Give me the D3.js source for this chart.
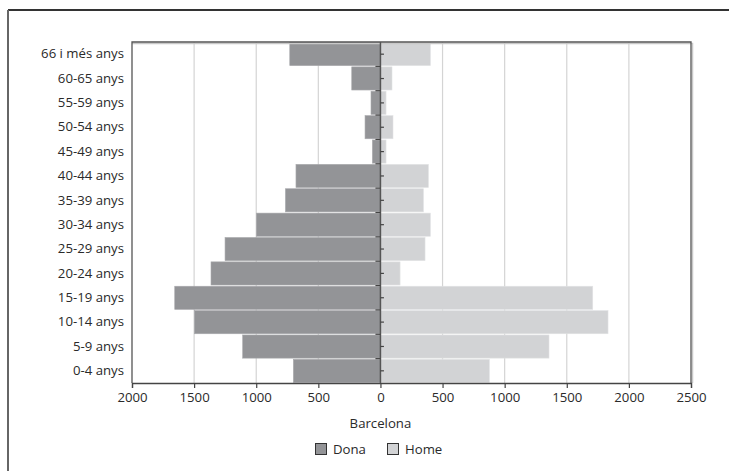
<!DOCTYPE html>
<html>
<head>
<meta charset="utf-8">
<script src="https://cdn.jsdelivr.net/npm/d3@7"></script>
<style>
  html, body { margin: 0; padding: 0; background: #fff; }
  svg text { font-family: "Open Sans", "DejaVu Sans", sans-serif; fill: #2a2a2a; }
</style>
</head>
<body>
<svg id="chart" width="729" height="471"></svg>
<script>
const categories = ["0-4 anys","5-9 anys","10-14 anys","15-19 anys","20-24 anys","25-29 anys","30-34 anys","35-39 anys","40-44 anys","45-49 anys","50-54 anys","55-59 anys","60-65 anys","66 i més anys"];
const dona = [701, 1109, 1498, 1656, 1364, 1251, 999, 765, 680, 65, 124, 76, 231, 730];
const home = [877, 1357, 1832, 1709, 158, 359, 402, 346, 386, 45, 101, 45, 93, 402];
const xTicks = [-2000, -1500, -1000, -500, 0, 500, 1000, 1500, 2000, 2500];
const xTitle = "Barcelona";
const seriesNames = ["Dona", "Home"];
const colors = ["#939497", "#d2d3d5"];

const svg = d3.select("#chart");
const mL = 132, mR = 691, mT = 42, mB = 383;
const fs = 13.2;

const x = d3.scaleLinear().domain([-2000, 2500]).range([mL, mR]);
const y = d3.scaleBand().domain(categories.slice().reverse()).range([mT, mB]).paddingInner(0.05).paddingOuter(0.02);
const yb = d3.scaleBand().domain(categories.slice().reverse()).range([mT, mB]);

// outer frame
svg.append("line").attr("x1", 8).attr("x2", 729).attr("y1", 10).attr("y2", 10).attr("stroke", "#333").attr("stroke-width", 2);
svg.append("line").attr("x1", 8).attr("x2", 8).attr("y1", 10).attr("y2", 471).attr("stroke", "#666").attr("stroke-width", 2);

// gridlines
svg.append("g").selectAll("line").data(xTicks.filter(d => d !== 0 && d !== -2000 && d !== 2500)).join("line")
  .attr("x1", d => x(d)).attr("x2", d => x(d)).attr("y1", mT).attr("y2", mB)
  .attr("stroke", "#d4d4d4").attr("stroke-width", 1.2);

// bars
const g = svg.append("g");
g.selectAll(".dona").data(categories).join("rect")
  .attr("x", (d, i) => x(-dona[i])).attr("width", (d, i) => x(0) - x(-dona[i]))
  .attr("y", d => y(d)).attr("height", y.bandwidth())
  .attr("fill", colors[0]).attr("stroke", "#a9aaad").attr("stroke-width", 0.6);
g.selectAll(".home").data(categories).join("rect")
  .attr("x", x(0)).attr("width", (d, i) => x(home[i]) - x(0))
  .attr("y", d => y(d)).attr("height", y.bandwidth())
  .attr("fill", colors[1]).attr("stroke", "#e2e3e4").attr("stroke-width", 0.6);

// plot frame shadow + frame
svg.append("path").attr("d", `M${mL},${mT + 1.5} H${mR + 1.5} V${mB}`)
  .attr("fill", "none").attr("stroke", "#c8c8c8").attr("stroke-width", 1.5);
svg.append("path").attr("d", `M${mL},${mB} V${mT} H${mR} V${mB}`)
  .attr("fill", "none").attr("stroke", "#555").attr("stroke-width", 1.3);

// x axis
const xAxis = d3.axisBottom(x).tickValues(xTicks).tickFormat(d => Math.abs(d)).tickSize(5).tickPadding(5);
const ax = svg.append("g").attr("transform", `translate(0,${mB})`).call(xAxis);
ax.attr("font-family", null).attr("font-size", null);
ax.select(".domain").attr("stroke", "#444").attr("stroke-width", 1.3);
ax.selectAll(".tick line").attr("stroke", "#444").attr("stroke-width", 1.2);
ax.selectAll("text").attr("font-size", fs).style("fill", "#2a2a2a");

// zero axis
svg.append("line").attr("x1", x(0)).attr("x2", x(0)).attr("y1", mT).attr("y2", mB)
  .attr("stroke", "#555").attr("stroke-width", 1.5);
// boundary ticks (left) and center ticks (right)
svg.append("g").selectAll("line").data(categories.slice(0, categories.length - 1)).join("line")
  .attr("x1", x(0) - 5).attr("x2", x(0)).attr("y1", d => yb(d)).attr("y2", d => yb(d))
  .attr("stroke", "#444").attr("stroke-width", 1.2);
svg.append("g").selectAll("line").data(categories).join("line")
  .attr("x1", x(0)).attr("x2", x(0) + 3.5).attr("y1", d => yb(d) + yb.bandwidth() / 2).attr("y2", d => yb(d) + yb.bandwidth() / 2)
  .attr("stroke", "#444").attr("stroke-width", 1.2);

// y labels
svg.append("g").selectAll("text").data(categories).join("text")
  .attr("x", mL - 8).attr("y", d => yb(d) + yb.bandwidth() / 2).attr("dy", "0.32em")
  .attr("text-anchor", "end").attr("font-size", fs).text(d => d);

// x title
svg.append("text").attr("x", x(0)).attr("y", 428).attr("text-anchor", "middle").attr("font-size", fs).text(xTitle);

// legend
const legendX = [315, 387];
seriesNames.forEach((name, i) => {
  svg.append("rect").attr("x", legendX[i] + 0.5).attr("y", 443.5).attr("width", 11).attr("height", 11)
    .attr("fill", colors[i]).attr("stroke", "#333").attr("stroke-width", 1);
  svg.append("text").attr("x", legendX[i] + 18).attr("y", 449).attr("dy", "0.35em").attr("font-size", fs).text(name);
});
</script>
</body>
</html>
